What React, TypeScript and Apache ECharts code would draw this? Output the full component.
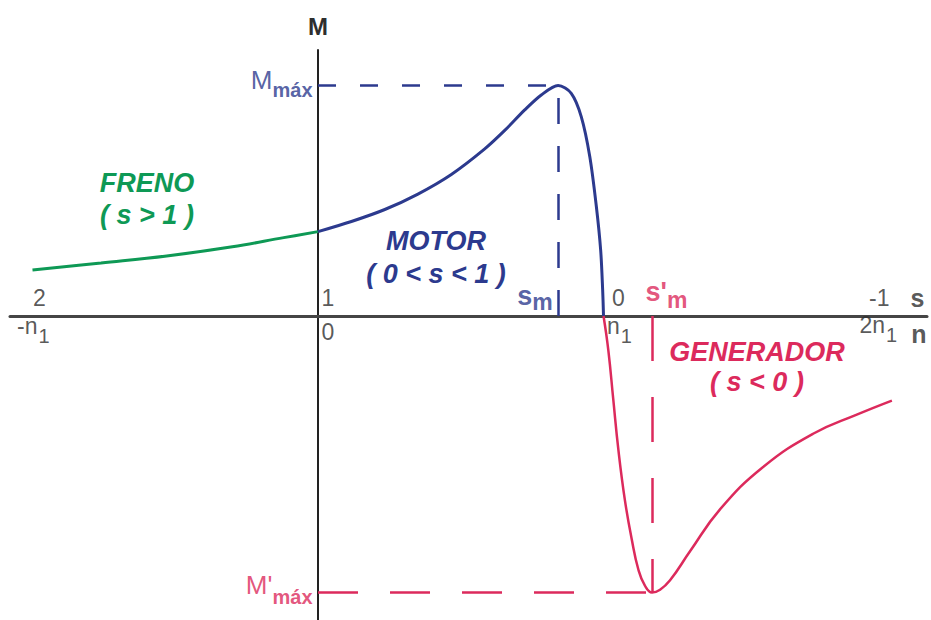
import React, { useEffect, useRef } from "react";
import * as echarts from "echarts";

// Torque–speed characteristic of an induction machine.
// Horizontal variable: speed as a fraction of synchronous speed n/n1 (slip s = 1 - n/n1).
// Vertical variable: torque relative to the motoring breakdown torque.

// Braking region (s > 1)
const brakeSpeed = [-1.0, -0.76, -0.53, -0.3, -0.12, 0];
const brakeTorque = [0.2, 0.23, 0.26, 0.3, 0.34, 0.366];

// Motoring region (0 < s < 1)
const motorSpeed = [0, 0.117, 0.234, 0.35, 0.467, 0.584, 0.654, 0.724, 0.782, 0.841, 0.887, 0.922, 0.952, 0.975, 0.99, 0.997, 1.0];
const motorTorque = [0.366, 0.41, 0.462, 0.529, 0.614, 0.725, 0.805, 0.894, 0.959, 1.0, 0.966, 0.865, 0.691, 0.474, 0.286, 0.113, 0];

// Generating region (s < 0)
const genSpeed = [1.0, 1.017, 1.034, 1.052, 1.075, 1.099, 1.122, 1.145, 1.17, 1.198, 1.233, 1.303, 1.408, 1.559, 1.734, 1.887, 2.01];
const genTorque = [0, -0.15, -0.36, -0.58, -0.8, -0.97, -1.1, -1.17, -1.2, -1.188, -1.147, -1.021, -0.839, -0.655, -0.511, -0.428, -0.367];

// Breakdown points
const motorPeakSpeed = 0.841; // s_m
const motorPeakTorque = 1.0; // M_máx
const genPeakSpeed = 1.17; // s'_m
const genPeakTorque = -1.2; // M'_máx

// Axis ticks: speed values with their slip and speed labels
const tickSpeeds = [-1, 0, 1, 2];
const slipLabels = ["2", "1", "0", "-1"];
const speedLabels = ["{t|-n}{sub|1}", "{d|0}", "{t|n}{sub|1}", "{t|2n}{sub|1}"];

const X_MIN = -1.0788;
const X_MAX = 2.133;
const Y_MIN = -1.319;
const Y_MAX = 1.154;

const GREEN = "#0e9955";
const NAVY = "#2c3a8e";
const RED = "#dc2a5c";
const INK = "#2e2e2e";
const FONT = "'Liberation Sans', Arial, Helvetica, sans-serif";

// [align, dx, dy] for each tick label
const slipOffsets: [string, number, number][] = [
  ["left", 1, -17],
  ["left", 4, -17],
  ["left", 9, -17],
  ["right", 1, -17],
];
const speedOffsets: [string, number, number][] = [
  ["left", -15, 11],
  ["left", 4, 17],
  ["left", 4, 11],
  ["left", -29, 10],
];

const tickRich = {
  t: { fontSize: 23, color: INK, fontFamily: FONT, lineHeight: 24 },
  d: { fontSize: 23, color: INK, fontFamily: FONT, lineHeight: 24 },
  sub: { fontSize: 20, color: INK, fontFamily: FONT, lineHeight: 16, padding: [20, 0, 0, 1] },
};

function labelPoint(x: number, y: number, text: string, align: string, dx: number, dy: number, rich: any) {
  return {
    value: [x, y],
    label: {
      show: true,
      position: [0, 0],
      align,
      verticalAlign: "middle",
      offset: [dx, dy],
      formatter: text,
      rich,
    },
  };
}

export default function App() {
  const ref = useRef<HTMLDivElement>(null);

  useEffect(() => {
    if (!ref.current) return;
    const chart = echarts.init(ref.current, null, { renderer: "svg" });

    const labelData: any[] = [];
    tickSpeeds.forEach((v, i) => {
      const [sa, sdx, sdy] = slipOffsets[i];
      const [na, ndx, ndy] = speedOffsets[i];
      labelData.push(labelPoint(v, 0, `{d|${slipLabels[i]}}`, sa, sdx, sdy, tickRich));
      labelData.push(labelPoint(v, 0, speedLabels[i], na, ndx, ndy, tickRich));
    });

    const axisLetter = {
      b: { fontSize: 25, fontWeight: "bold", color: INK, fontFamily: FONT },
    };
    labelData.push(labelPoint(X_MAX, 0, "{b|s}", "right", -2, -17, axisLetter));
    labelData.push(labelPoint(X_MAX, 0, "{b|n}", "right", 0, 19, axisLetter));

    const slipMarkRich = (color: string, drop: number) => ({
      s: { fontSize: 27, fontWeight: "bold", color, fontFamily: FONT, lineHeight: 26 },
      m: { fontSize: 23, fontWeight: "bold", color, fontFamily: FONT, lineHeight: 14, padding: [drop * 2, 0, 0, 0] },
    });
    const torqueMarkRich = (color: string, drop: number) => ({
      M: { fontSize: 26, color, fontFamily: FONT, lineHeight: 26 },
      x: { fontSize: 20, fontWeight: "bold", color, fontFamily: FONT, lineHeight: 14, padding: [drop * 2, 0, 0, 0] },
    });
    labelData.push(labelPoint(motorPeakSpeed, 0, "{s|s}{m|m}", "right", -5, -19, slipMarkRich(NAVY, 6)));
    labelData.push(labelPoint(genPeakSpeed, 0, "{s|s'}{m|m}", "left", -6, -23, slipMarkRich(RED, 8)));
    labelData.push(labelPoint(0, motorPeakTorque, "{M|M}{x|máx}", "right", -5, -5, torqueMarkRich(NAVY, 10)));
    labelData.push(labelPoint(0, genPeakTorque, "{M|M'}{x|máx}", "right", -5, -7, torqueMarkRich(RED, 12)));

    const regionStyle = (color: string, lineHeight: number) => ({
      fill: color,
      fontFamily: FONT,
      fontSize: 27,
      fontWeight: "bold",
      fontStyle: "italic",
      lineHeight,
      align: "center",
      verticalAlign: "middle",
    });

    chart.setOption({
      animation: false,
      backgroundColor: "#ffffff",
      grid: { left: 10, right: 4, top: 50, bottom: 0, containLabel: false },
      xAxis: {
        type: "value",
        min: X_MIN,
        max: X_MAX,
        axisLine: { show: true, onZero: true, lineStyle: { color: "#454545", width: 3 } },
        axisTick: { show: false },
        axisLabel: { show: false },
        splitLine: { show: false },
      },
      yAxis: {
        type: "value",
        min: Y_MIN,
        max: Y_MAX,
        name: "M",
        nameLocation: "end",
        nameGap: 12,
        nameTextStyle: { fontSize: 24, fontWeight: "bold", color: INK, fontFamily: FONT, align: "center" },
        axisLine: { show: true, onZero: true, lineStyle: { color: "#222222", width: 2 } },
        axisTick: { show: false },
        axisLabel: { show: false },
        splitLine: { show: false },
      },
      graphic: [
        { type: "text", style: { text: "FRENO\n( s > 1 )", x: 147, y: 199, ...regionStyle(GREEN, 32) } },
        { type: "text", style: { text: "MOTOR\n( 0 < s < 1 )", x: 436, y: 257, ...regionStyle(NAVY, 33) } },
        { type: "text", style: { text: "GENERADOR\n( s < 0 )", x: 757, y: 367, ...regionStyle(RED, 30) } },
      ],
      series: [
        {
          name: "Freno",
          type: "line",
          data: brakeSpeed.map((v, i) => [v, brakeTorque[i]]),
          smooth: 0.4,
          symbol: "none",
          lineStyle: { color: GREEN, width: 3 },
          z: 3,
        },
        {
          name: "Motor",
          type: "line",
          data: motorSpeed.map((v, i) => [v, motorTorque[i]]),
          smooth: 0.3,
          symbol: "none",
          lineStyle: { color: NAVY, width: 3 },
          z: 3,
          markLine: {
            silent: true,
            symbol: ["none", "none"],
            label: { show: false },
            data: [
              [
                { coord: [0, motorPeakTorque], lineStyle: { color: NAVY, width: 2.5, type: [18, 24] } },
                { coord: [motorPeakSpeed, motorPeakTorque] },
              ],
              [
                { coord: [motorPeakSpeed, 0], lineStyle: { color: NAVY, width: 2.5, type: [26, 22] } },
                { coord: [motorPeakSpeed, motorPeakTorque] },
              ],
            ],
          },
        },
        {
          name: "Generador",
          type: "line",
          data: genSpeed.map((v, i) => [v, genTorque[i]]),
          smooth: 0.45,
          symbol: "none",
          lineStyle: { color: RED, width: 2.5 },
          z: 3,
          markLine: {
            silent: true,
            symbol: ["none", "none"],
            label: { show: false },
            data: [
              [
                { coord: [0, genPeakTorque], lineStyle: { color: RED, width: 2.5, type: [40, 32] } },
                { coord: [genPeakSpeed, genPeakTorque] },
              ],
              [
                { coord: [genPeakSpeed, 0], lineStyle: { color: RED, width: 2.5, type: [45, 36] } },
                { coord: [genPeakSpeed, genPeakTorque] },
              ],
            ],
          },
        },
        {
          name: "labels",
          type: "scatter",
          silent: true,
          symbolSize: 1,
          itemStyle: { color: "rgba(0,0,0,0)" },
          data: labelData,
          z: 5,
        },
      ],
    });

    return () => chart.dispose();
  }, []);

  return (
    <div
      ref={ref}
      style={{ position: "fixed", left: 0, top: 0, width: 931, height: 620, background: "#fff" }}
    />
  );
}
